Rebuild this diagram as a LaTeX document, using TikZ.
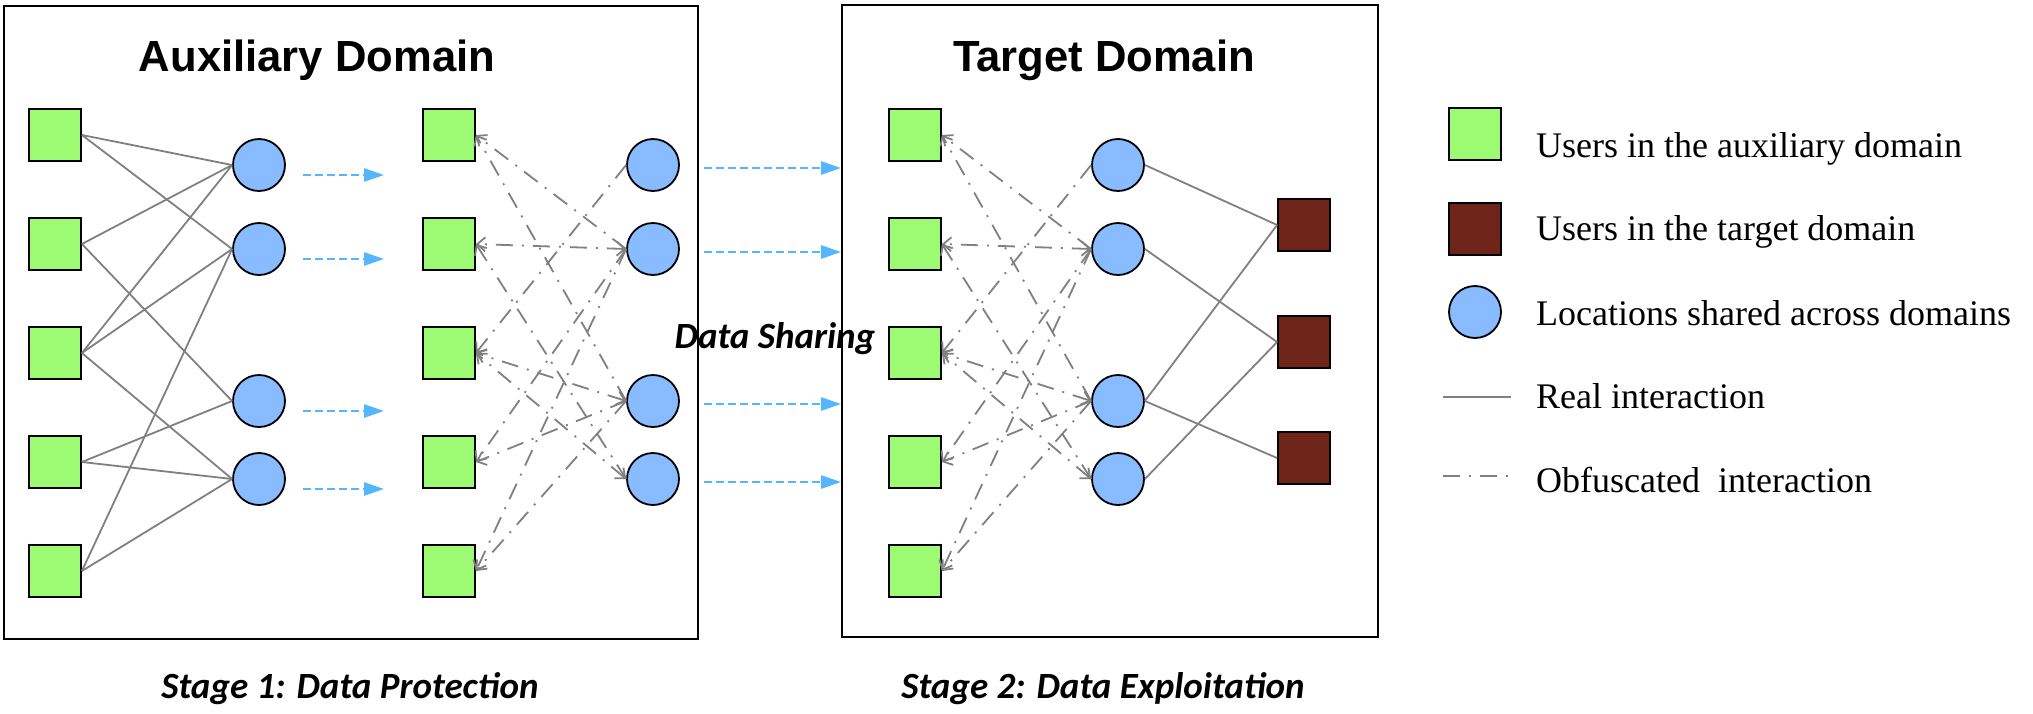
\documentclass[tikz,border=0pt]{standalone}
\usepackage{fontspec}
\setmainfont{Liberation Serif}
\newfontfamily\headfont{Liberation Sans}
\newfontfamily\notefont{Carlito}
\usepackage{tikz}
\usetikzlibrary{arrows.meta,positioning,calc}
\definecolor{AuxGreen}{HTML}{9CFA73}
\definecolor{TgtBrown}{HTML}{6E2418}
\definecolor{LocBlue}{HTML}{88BBFF}
\definecolor{ShareBlue}{HTML}{55B5FF}
\definecolor{EdgeGray}{HTML}{808080}
\tikzset{
  user/.style={rectangle, draw=black, line width=1.8pt, fill=AuxGreen,
               minimum size=52pt, inner sep=0pt},
  tuser/.style={user, fill=TgtBrown},
  loc/.style={user, circle, fill=LocBlue},
  real/.style={draw=EdgeGray, line width=1.8pt},
  obf/.style={real, dash pattern=on 17pt off 9pt on 2pt off 9pt},
  obfone/.style={obf, -{Straight Barb[length=8pt,width=14pt]}},
  obftwo/.style={obf, {Straight Barb[length=8pt,width=14pt]}-{Straight Barb[length=8pt,width=14pt]}},
  share/.style={-{Triangle[length=20pt,width=13pt]}, draw=ShareBlue, line width=2.6pt,
                dash pattern=on 8pt off 4pt},
  domainbox/.style={draw=black, line width=1.8pt, inner sep=0pt},
  domtitle/.style={font=\headfont\bfseries\fontsize{43.6pt}{48pt}\selectfont, anchor=base},
  stagelabel/.style={font=\notefont\bfseries\itshape\fontsize{37pt}{42pt}\selectfont, anchor=base},
  legtext/.style={font=\fontsize{36pt}{40pt}\selectfont, anchor=base west, inner sep=0pt},
}
\begin{document}
\begin{tikzpicture}[x=1pt,y=-1pt]
  \useasboundingbox (0,0) rectangle (2033,713);
  % domain frames
  \node[domainbox, minimum width=694pt, minimum height=633pt] (auxbox) at (351,322.5) {};
  \node[domainbox, minimum width=536pt, minimum height=632pt] (tgtbox) at (1110,321) {};
  \node[domtitle] (auxtitle) at (317,71) {Auxiliary Domain};
  \node[domtitle] (tgttitle) at (1104,71) {Target Domain};
  % users and locations
  \foreach \i/\y in {1/135,2/244,3/353,4/462,5/571} {
    \node[user] (s\i) at (55,\y) {};
    \node[user] (t\i) at (449,\y) {};
    \node[user] (u\i) at (915,\y) {};
  }
  \foreach \i/\y in {1/165,2/249,3/401,4/479} {
    \node[loc] (a\i) at (259,\y) {};
    \node[loc] (b\i) at (653,\y) {};
    \node[loc] (d\i) at (1118,\y) {};
  }
  \foreach \i/\y in {1/225,2/342,3/458}
    \node[tuser] (r\i) at (1304,\y) {};
  % real interactions
  \foreach \s/\a in {1/1,1/2,2/1,2/3,3/1,3/2,3/4,4/3,4/4,5/2,5/4}
    \draw[real] (s\s.east) -- (a\a.west);
  \foreach \d/\r in {1/1,2/2,3/1,3/3,4/2}
    \draw[real] (d\d.east) -- (r\r.west);
  % obfuscated interactions
  \foreach \sq/\lc in {t/b,u/d} {
    \foreach \c/\s in {1/3,2/1,2/4,2/5,3/1,3/4,3/5,4/2}
      \draw[obfone] (\lc\c.west) -- (\sq\s.east);
    \foreach \c/\s in {2/2,3/3,4/3}
      \draw[obftwo] (\lc\c.west) -- (\sq\s.east);
  }
  % data sharing
  \foreach \i in {1,...,4} {
    \draw[share] ($(a\i.east)+(17,10)$) -- ($(a\i.east -| t1.west)+(-38,10)$);
    \draw[share] ($(b\i.east)+(24,3)$) -- ($(b\i.east -| tgtbox.west)+(0,3)$);
  }
  \node[stagelabel] (sharing) at (775,348) {Data Sharing};
  \node[stagelabel] (stage1) at (350,698) {Stage 1: Data Protection};
  \node[stagelabel] (stage2) at (1103,698) {Stage 2: Data Exploitation};
  % legend
  \node[user] (lg1) at (1475,134) {};
  \node[tuser] (lg2) at (1475,229) {};
  \node[loc] (lg3) at (1475,312) {};
  \coordinate (lg4) at (1475,397);
  \coordinate (lg5) at (1475,476);
  \draw[real] ($(lg4)+(-32,0)$) -- ($(lg4)+(36,0)$);
  \draw[obf] ($(lg5)+(-32,0)$) -- ($(lg5)+(36,0)$);
  \node[legtext] at (1536,157) {Users in the auxiliary domain};
  \node[legtext] at (1536,240) {Users in the target domain};
  \node[legtext] at (1536,325) {Locations shared across domains};
  \node[legtext] at (1536,408) {Real interaction};
  \node[legtext] at (1536,492) {Obfuscated\ \ interaction};
\end{tikzpicture}
\end{document}
